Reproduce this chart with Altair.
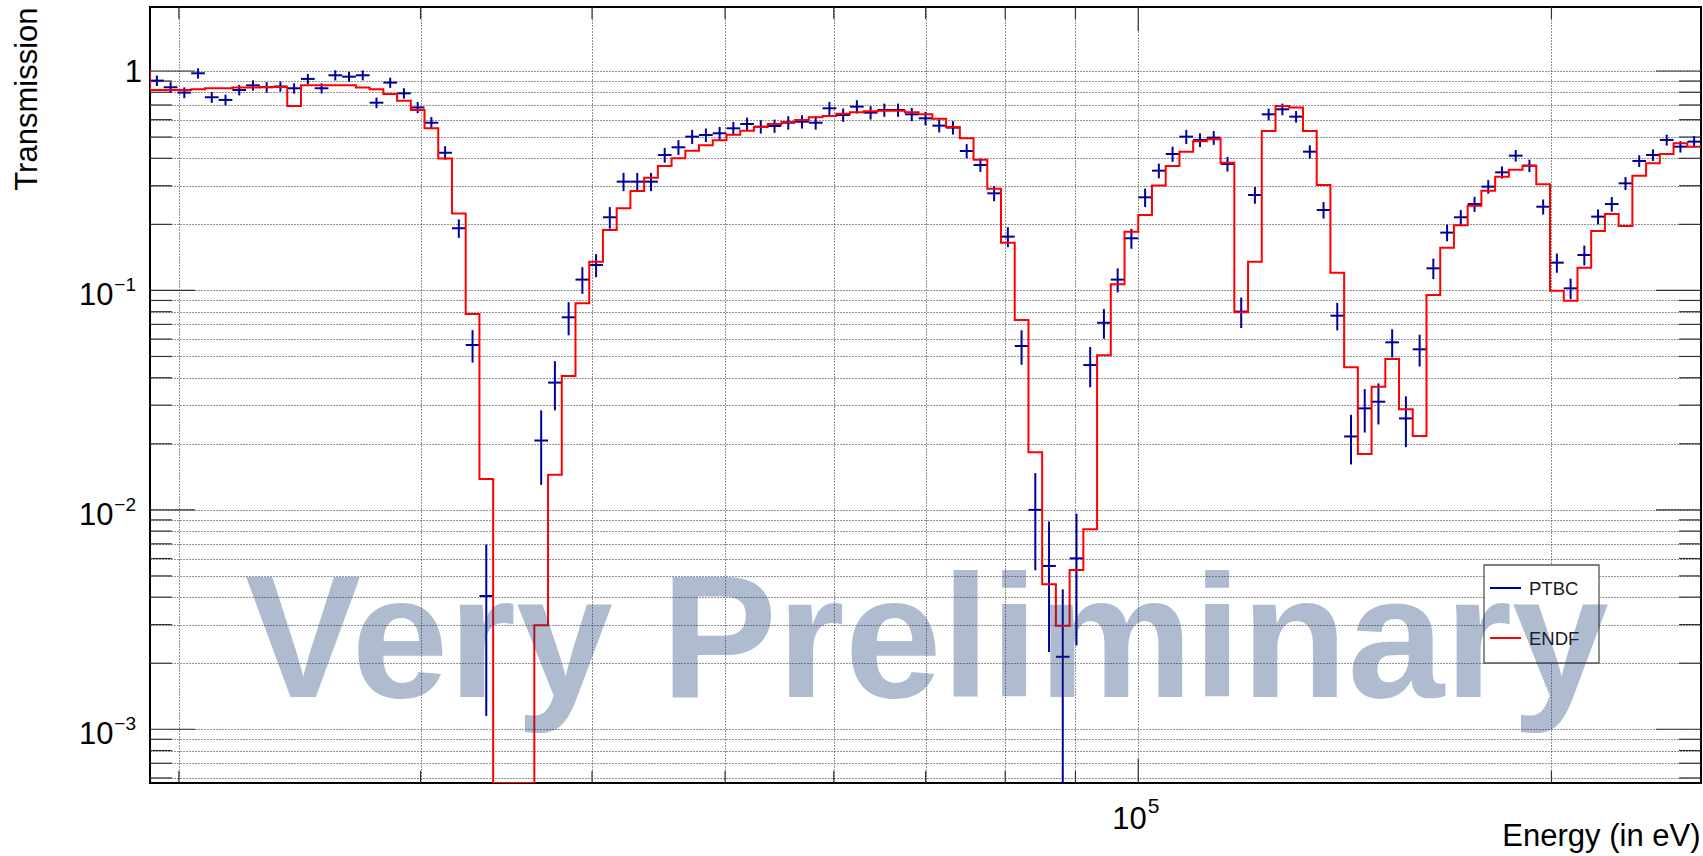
import altair as alt
import numpy as np
import pandas as pd

# Histogram binning: 100 logarithmic bins per decade, displayed window 10^4.28 .. 10^5.41 eV
LOG10_FIRST_EDGE = 4.28
BINS_PER_DECADE = 100
E_MIN, E_MAX = 10 ** 4.28, 10 ** 5.41
T_MIN, T_MAX = 5.69e-4, 1.957
FLOOR = 1e-7  # stands in for zero transmission on the log axis (clamped to the bottom)

# ENDF value of the bin just left of the displayed window
endf_bin_before = 1.0

# ENDF transmission per bin
endf = [
    0.82, 0.82, 0.82, 0.825, 0.835, 0.835, 0.84, 0.84, 0.845, 0.845,
    0.693, 0.86, 0.86, 0.86, 0.86, 0.84, 0.825, 0.786, 0.732, 0.664,
    0.548, 0.399, 0.224, 0.0781, 0.01383, 0.0, 0.0, 0.0, 0.00298, 0.01446,
    0.0407, 0.0873, 0.1352, 0.1886, 0.2366, 0.2838, 0.3265, 0.3692, 0.3999, 0.4335,
    0.4584, 0.4831, 0.5128, 0.5347, 0.5556, 0.5734, 0.5855, 0.5979, 0.6148, 0.6235,
    0.6391, 0.6481, 0.655, 0.6596, 0.6596, 0.648, 0.6346, 0.6063, 0.5556, 0.4934,
    0.3944, 0.2909, 0.1651, 0.0733, 0.0183, 0.00458, 0.002966, 0.00532, 0.00815, 0.0506,
    0.1067, 0.1853, 0.2207, 0.301, 0.3692, 0.4288, 0.478, 0.488, 0.3822, 0.0795,
    0.1352, 0.5328, 0.6927, 0.6808, 0.5328, 0.3022, 0.1205, 0.0446, 0.01797, 0.0364,
    0.0487, 0.0287, 0.0217, 0.0953, 0.1566, 0.198, 0.2433, 0.2849, 0.33, 0.3551,
    0.3704, 0.3044, 0.0997, 0.0898, 0.127, 0.1866, 0.223, 0.1966, 0.3334, 0.3795,
    0.4184, 0.468, 0.4519,
]

# PTBC measured transmission per bin (None: no positive value)
ptbc = [
    0.904, 0.843, 0.797, 0.976, 0.759, 0.738, 0.819, 0.86, 0.843, 0.85,
    0.834, 0.92, 0.834, 0.956, 0.942, 0.956, 0.717, 0.885, 0.791, 0.682,
    0.581, 0.424, 0.192, 0.0564, 0.00405, None, None, None, 0.0207, 0.038,
    0.0754, 0.112, 0.1306, 0.2154, 0.3131, 0.3131, 0.3131, 0.4141, 0.449, 0.502,
    0.5109, 0.52, 0.5479, 0.5734, 0.5576, 0.5615, 0.5812, 0.5874, 0.5812, 0.676,
    0.6302, 0.6877, 0.6458, 0.664, 0.664, 0.6346, 0.6085, 0.5635, 0.5518, 0.4319,
    0.3728, 0.277, 0.1758, 0.0558, 0.0100, 0.00555, 0.00214, 0.00601, 0.0457, 0.0712,
    0.112, 0.1728, 0.2656, 0.3513, 0.4184, 0.502, 0.4849, 0.4968, 0.377, 0.0801,
    0.2722, 0.6346, 0.6689, 0.6193, 0.4288, 0.2325, 0.0767, 0.0216, 0.029, 0.0311,
    0.058, 0.0261, 0.0539, 0.1261, 0.1834, 0.2154, 0.2475, 0.2971, 0.3452, 0.4113,
    0.3704, 0.2407, 0.1338, 0.1022, 0.145, 0.2169, 0.2475, 0.3076, 0.3889, 0.4141,
    0.4849, 0.4519, 0.4764,
]

# PTBC statistical uncertainty per bin
ptbc_err = [
    0.05, 0.047, 0.045, 0.053, 0.043, 0.042, 0.045, 0.047, 0.046, 0.046,
    0.045, 0.05, 0.045, 0.051, 0.05, 0.05, 0.04, 0.047, 0.043, 0.04,
    0.036, 0.03, 0.0185, 0.0095, 0.0029, None, None, None, 0.0077, 0.0096,
    0.013, 0.0156, 0.0157, 0.0243, 0.030, 0.030, 0.030, 0.032, 0.035, 0.037,
    0.036, 0.036, 0.038, 0.040, 0.039, 0.039, 0.041, 0.041, 0.041, 0.047,
    0.044, 0.048, 0.045, 0.046, 0.046, 0.044, 0.043, 0.039, 0.039, 0.032,
    0.026, 0.022, 0.0185, 0.010, 0.0047, 0.0033, 0.0022, 0.0036, 0.0095, 0.011,
    0.014, 0.018, 0.0255, 0.027, 0.033, 0.037, 0.035, 0.036, 0.029, 0.0127,
    0.0237, 0.039, 0.041, 0.038, 0.030, 0.020, 0.011, 0.0055, 0.0065, 0.0066,
    0.0085, 0.0068, 0.0089, 0.0135, 0.016, 0.017, 0.0195, 0.021, 0.022, 0.025,
    0.024, 0.019, 0.0134, 0.011, 0.015, 0.017, 0.019, 0.021, 0.024, 0.025,
    0.028, 0.027, 0.028,
]

# Axis tick positions and labels
x_ticks = [20000, 30000, 40000, 50000, 60000, 70000, 80000, 90000, 100000, 200000]
x_major = [100000]
x_major_exponents = ["5"]
y_decades = [0.001, 0.01, 0.1, 1]
y_decade_exponents = ["\u22123", "\u22122", "\u22121"]   # for 10^-3, 10^-2, 10^-1
y_ticks = [k * 10.0 ** d for d in range(-4, 1) for k in range(1, 10)
           if T_MIN <= k * 10.0 ** d <= T_MAX]
y_minor = [v for v in y_ticks if v not in y_decades]
x_minor = [v for v in x_ticks if v not in x_major]

W, H = 1551, 776
BLUE = "#000099"
RED = "#ff0000"
FONT = "Liberation Sans"

# --- tables -----------------------------------------------------------
n = len(endf)
edges = 10 ** (LOG10_FIRST_EDGE + np.arange(n + 1) / BINS_PER_DECADE)
centers = np.sqrt(edges[:-1] * edges[1:])

step_df = pd.DataFrame({
    "E": np.concatenate([[10 ** (LOG10_FIRST_EDGE - 1 / BINS_PER_DECADE)], edges]),
    "T": np.maximum([endf_bin_before] + endf + [endf[-1]], FLOOR),
})

pts_df = pd.DataFrame({
    "E": centers, "E_lo": edges[:-1], "E_hi": edges[1:],
    "T": pd.array(ptbc, dtype="Float64"), "err": pd.array(ptbc_err, dtype="Float64"),
}).dropna().astype(float)
pts_df["T_lo"] = np.maximum(pts_df["T"] - pts_df["err"], FLOOR)
pts_df["T_hi"] = pts_df["T"] + pts_df["err"]

# --- scales and axes (grid and titles; tick labels are drawn as text) ---
xscale = alt.Scale(type="log", domain=[E_MIN, E_MAX], nice=False)
yscale = alt.Scale(type="log", domain=[T_MIN, T_MAX], nice=False, clamp=True)

GRID = dict(grid=True, gridDash=[1, 2], gridColor="#000000", gridWidth=1, gridOpacity=0.85,
            ticks=False, tickSize=0, domain=False, labels=False)
xaxis = alt.Axis(
    values=x_ticks, **GRID,
    title="Energy (in eV)", titleFont=FONT, titleFontSize=31, titleFontWeight="normal",
    titleColor="black", titleAlign="right", titleAnchor="end", titleBaseline="alphabetic",
    titleX=W - 1, titleY=62,
)
yaxis = alt.Axis(
    values=y_ticks, **GRID,
    title="Transmission", titleFont=FONT, titleFontSize=31, titleFontWeight="normal",
    titleColor="black", titleAngle=270, titleAlign="right", titleBaseline="alphabetic",
    titleX=-114, titleY=0,
)


def X(field):
    return alt.X(field, type="quantitative", scale=xscale, axis=xaxis)


def Y(field):
    return alt.Y(field, type="quantitative", scale=yscale, axis=yaxis)


def vdf(vals, **extra):
    return pd.DataFrame({"v": vals, **extra})


# --- inward ticks on all four sides --------------------------------------
tick_style = dict(color="#333333", strokeWidth=1.2)
ticks = [
    alt.Chart(vdf(y_decades)).mark_rule(**tick_style).encode(y=Y("v"), x=alt.value(0), x2=alt.value(45)),
    alt.Chart(vdf(y_minor)).mark_rule(**tick_style).encode(y=Y("v"), x=alt.value(0), x2=alt.value(22)),
    alt.Chart(vdf(y_decades)).mark_rule(**tick_style).encode(y=Y("v"), x=alt.value(W), x2=alt.value(W - 45)),
    alt.Chart(vdf(y_minor)).mark_rule(**tick_style).encode(y=Y("v"), x=alt.value(W), x2=alt.value(W - 22)),
    alt.Chart(vdf(x_major)).mark_rule(**tick_style).encode(x=X("v"), y=alt.value(H), y2=alt.value(H - 24)),
    alt.Chart(vdf(x_minor)).mark_rule(**tick_style).encode(x=X("v"), y=alt.value(H), y2=alt.value(H - 12)),
    alt.Chart(vdf(x_major)).mark_rule(**tick_style).encode(x=X("v"), y=alt.value(0), y2=alt.value(24)),
    alt.Chart(vdf(x_minor)).mark_rule(**tick_style).encode(x=X("v"), y=alt.value(0), y2=alt.value(12)),
]

# --- tick labels with raised exponents ----------------------------------
lab = dict(font=FONT, color="black", baseline="alphabetic")
labels = [
    # y: "1"
    alt.Chart(vdf([1])).mark_text(fontSize=31, align="right", dy=11, **lab).encode(
        y=Y("v"), x=alt.value(-8), text=alt.value("1")),
    # y: "10" + exponent
    alt.Chart(vdf(y_decades[:-1])).mark_text(fontSize=31, align="right", dy=15, **lab).encode(
        y=Y("v"), x=alt.value(-36.5), text=alt.value("10")),
    alt.Chart(vdf(y_decades[:-1], exp=y_decade_exponents)).mark_text(
        fontSize=19, align="right", dy=1, **lab).encode(
        y=Y("v"), x=alt.value(-14), text="exp:N"),
    # x: "10" + exponent
    alt.Chart(vdf(x_major)).mark_text(fontSize=31, align="right", dx=8.5, **lab).encode(
        x=X("v"), y=alt.value(H + 46), text=alt.value("10")),
    alt.Chart(vdf(x_major, exp=x_major_exponents)).mark_text(
        fontSize=21, align="left", dx=9.5, **lab).encode(
        x=X("v"), y=alt.value(H + 30), text="exp:N"),
]

# --- PTBC points with error bars ----------------------------------------
ptbc_v = alt.Chart(pts_df).mark_rule(color=BLUE, strokeWidth=2, clip=True).encode(
    x=X("E"), y=Y("T_lo"), y2="T_hi")
ptbc_h = alt.Chart(pts_df).mark_rule(color=BLUE, strokeWidth=2, clip=True).encode(
    x=X("E_lo"), x2="E_hi", y=Y("T"))

# --- ENDF histogram ------------------------------------------------------
endf_line = alt.Chart(step_df).mark_line(
    color=RED, strokeWidth=2, interpolate="step-after", clip=True
).encode(x=X("E"), y=Y("T"))

# --- legend --------------------------------------------------------------
one = pd.DataFrame({"k": [0]})
leg_box = alt.Chart(one).mark_rect(fill="white", stroke="#555555", strokeWidth=1.3).encode(
    x=alt.value(1334), x2=alt.value(1449), y=alt.value(558), y2=alt.value(656))
leg_blue = alt.Chart(one).mark_rule(color=BLUE, strokeWidth=2).encode(
    x=alt.value(1340), x2=alt.value(1371), y=alt.value(581))
leg_red = alt.Chart(one).mark_rule(color=RED, strokeWidth=2).encode(
    x=alt.value(1340), x2=alt.value(1371), y=alt.value(631))
leg_txt1 = alt.Chart(pd.DataFrame({"t": ["PTBC"]})).mark_text(
    font=FONT, fontSize=18.5, color="#1a1a1a", align="left", baseline="alphabetic"
).encode(text="t:N", x=alt.value(1379), y=alt.value(588))
leg_txt2 = alt.Chart(pd.DataFrame({"t": ["ENDF"]})).mark_text(
    font=FONT, fontSize=18.5, color="#1a1a1a", align="left", baseline="alphabetic"
).encode(text="t:N", x=alt.value(1379), y=alt.value(638))

# --- watermark -----------------------------------------------------------
watermark = alt.Chart(pd.DataFrame({"t": ["Very Preliminary"]})).mark_text(
    font=FONT, fontSize=174, fontWeight="bold", color="#103471", opacity=0.33,
    align="left", baseline="alphabetic"
).encode(text="t:N", x=alt.value(95), y=alt.value(690))

chart = alt.layer(
    *ticks, *labels, ptbc_v, ptbc_h, endf_line,
    leg_box, leg_blue, leg_red, leg_txt1, leg_txt2, watermark,
).properties(
    width=W, height=H,
    autosize=alt.AutoSizeParams(type="none"),
    padding={"left": 150, "top": 7, "right": 2, "bottom": 73},
    background="white",
).configure_view(stroke="black", strokeWidth=2)

chart.save("out.html", embed_options={"renderer": "svg", "actions": False})
